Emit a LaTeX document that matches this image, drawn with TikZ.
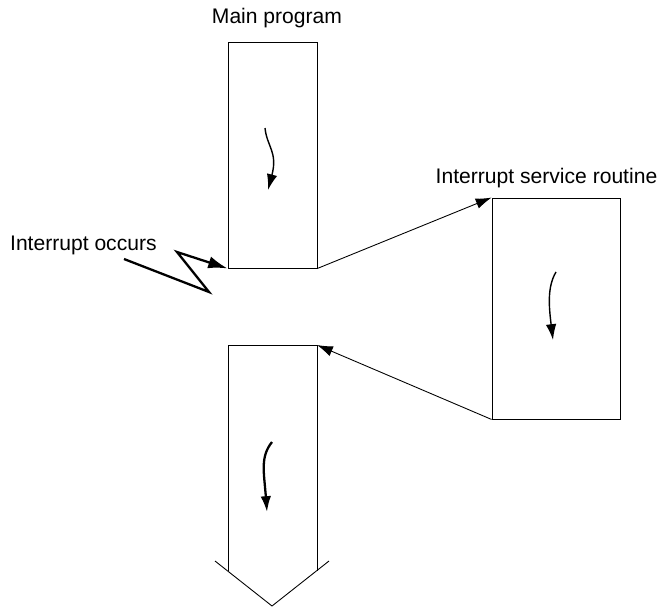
\documentclass[tikz,border=0pt]{standalone}
\usepackage{fontspec}
\setmainfont{Liberation Sans}
\usepackage{tikz}
\usetikzlibrary{calc, arrows.meta, positioning}

\begin{document}
\begin{tikzpicture}[>=Latex,
    box/.style={draw, line width=0.5pt, inner sep=0pt},
    link/.style={line width=0.5pt, -{Latex[length=9pt, width=6pt]}},
    flow/.style={line width=0.8pt, -{Latex[length=9pt, width=6pt]}},
    lbl/.style={font=\fontsize{12}{14}\selectfont, inner sep=0pt}]

    % =================================================================
    % 1. KHUNG HÌNH
    % =================================================================
    \useasboundingbox (0,0) rectangle (13.16,12.14);

    % =================================================================
    % 2. CHƯƠNG TRÌNH CHÍNH VÀ CHƯƠNG TRÌNH PHỤC VỤ NGẮT
    % =================================================================
    \node[box, minimum width=1.78cm, minimum height=4.52cm] (main) at (5.45,9.04) {};
    \node[box, minimum width=2.56cm, minimum height=4.42cm] (isr) at (11.12,5.97) {};

    % Phần tiếp theo của chương trình chính (mũi tên lớn)
    \coordinate (RestTL) at (4.56,5.24);
    \coordinate (RestTR) at (6.34,5.24);
    \coordinate (RestBL) at (4.56,0.72);
    \coordinate (RestBR) at (6.34,0.72);
    \coordinate (WingL) at (4.30,0.92);
    \coordinate (WingR) at (6.58,0.92);
    \coordinate (Tip) at (5.44,0.02);
    \draw[line width=0.5pt] (RestBL) -- (RestTL) -- (RestTR) -- (RestBR);
    \draw[line width=0.5pt] (WingL) -- (Tip) -- (WingR);

    % =================================================================
    % 3. CÁC MŨI TÊN CHUYỂN ĐIỀU KHIỂN
    % =================================================================
    \draw[link] (main.south east) -- (isr.north west);
    \draw[link] (isr.south west) -- (RestTR);

    % Tia chớp báo ngắt
    \coordinate (Bolt) at (2.48,6.96);
    \draw[line width=1.3pt, -{Latex[length=11pt, width=7pt]}]
        (Bolt) -- (4.18,6.30) -- (3.54,7.10) -- (main.south west);

    % Các đường cong chỉ hướng thực hiện
    \draw[flow] (5.30,9.58) .. controls (5.34,9.20) and (5.56,9.10) .. (5.36,8.34);
    \draw[flow] (11.12,6.70) .. controls (10.94,6.40) and (10.98,6.00) .. (11.06,5.34);
    \draw[flow, line width=1.3pt] (5.44,3.30) .. controls (5.20,3.00) and (5.28,2.70) .. (5.34,1.90);

    % =================================================================
    % 4. NHÃN
    % =================================================================
    \node[lbl, anchor=base] (mainlbl) at (5.54,11.66) {Main program};
    \node[lbl, anchor=base] (isrlbl) at (10.93,8.48) {Interrupt service routine};
    \node[lbl, anchor=base east] (irqlbl) at (3.14,7.14) {Interrupt occurs};

\end{tikzpicture}
\end{document}
